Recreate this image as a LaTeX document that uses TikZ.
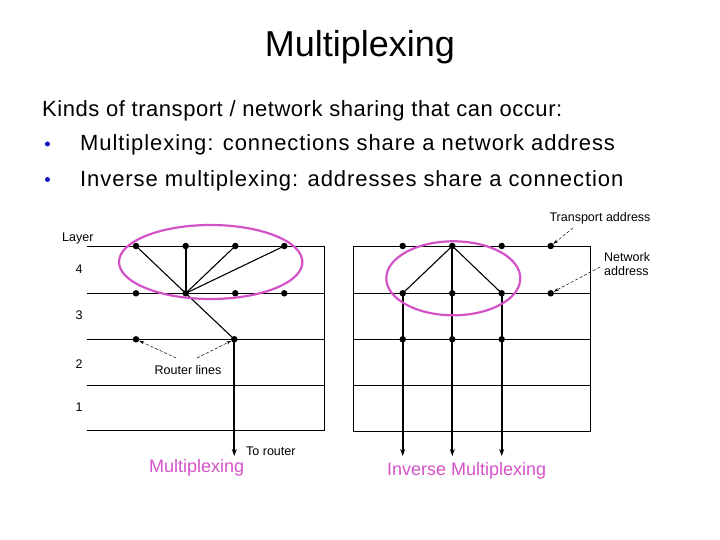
\documentclass[tikz,border=0pt]{standalone}
\usepackage{fontspec}
\setmainfont{Liberation Sans}
\usetikzlibrary{arrows.meta}
\definecolor{magentaring}{RGB}{212,82,200}
\definecolor{bulletblue}{RGB}{20,20,190}
\tikzset{
  grid/.style={line width=0.9pt},
  wire/.style={line width=1.1pt},
  thickwire/.style={line width=2.2pt},
  dot/.style={circle,fill=black,inner sep=0pt,minimum size=6.5pt},
  ring/.style={draw=magentaring,line width=2.2pt},
  small/.style={font=\fontsize{12.5}{14}\selectfont},
  lbl/.style={font=\fontsize{18}{20}\selectfont,text=magentaring},
  body/.style={font=\fontsize{22}{26}\selectfont,anchor=base west,inner sep=0pt},
  pointer/.style={-{Stealth[length=5pt,width=3pt]},line width=0.5pt,densely dashed},
  down/.style={-{Stealth[length=7pt,width=5pt]}}
}
\begin{document}
\begin{tikzpicture}[x=1pt,y=-1pt]
\useasboundingbox (0,0) rectangle (720,540);
% title and text
\node[font=\fontsize{36}{42}\selectfont,anchor=base,inner sep=0pt] (title) at (360,57) {Multiplexing};
\node[body] (l1) at (42,116.7) {\addfontfeatures{LetterSpace=2.5}Kinds of transport / network sharing that can occur:};
\node[body] (l2) at (80,151) {\addfontfeatures{LetterSpace=4.2}Multiplexing: connections share a network address};
\node[body] (l3) at (80,186.7) {\addfontfeatures{LetterSpace=4.2}Inverse multiplexing: addresses share a connection};
\node[circle,fill=bulletblue,inner sep=0pt,minimum size=5pt] (b1) at (47.5,144) {};
\node[circle,fill=bulletblue,inner sep=0pt,minimum size=5pt] (b2) at (47.5,179.5) {};

% ---------- left diagram ----------
\foreach \y in {246,293.3,339.3,385,430.7} \draw[grid] (86.7,\y) -- (324,\y);
\draw[grid] (324,246) -- (324,430.7);
\node[small,anchor=base west,inner sep=0pt] (layer) at (62,241) {Layer};
\node[small] (n4) at (79,269) {4};
\node[small] (n3) at (79,315) {3};
\node[small] (n2) at (79,364) {2};
\node[small] (n1) at (79,407) {1};
\node[dot] (a1) at (136,246) {};
\node[dot] (a2) at (185.7,246) {};
\node[dot] (a3) at (235.3,246) {};
\node[dot] (a4) at (284.3,246) {};
\node[dot] (b1n) at (136,293.3) {};
\node[dot] (b2n) at (185.7,293.3) {};
\node[dot] (b3n) at (235.3,293.3) {};
\node[dot] (b4n) at (284.3,293.3) {};
\node[dot] (c1) at (136,339.3) {};
\node[dot] (c2) at (234.3,339.3) {};
\coordinate (tr) at (234.3,456);
\draw[wire] (b2n.center) -- (a1.center);
\draw[thickwire] (b2n.center) -- (a2.center);
\draw[wire] (b2n.center) -- (a3.center);
\draw[wire] (b2n.center) -- (a4.center);
\draw[wire] (b2n.center) -- (c2.center);
\draw[thickwire,down] (c2.center) -- (tr);
\node[small] (rl) at (188,370) {Router lines};
\draw[pointer] (176,358) -- (c1);
\draw[pointer] (197,358) -- (c2);
\node[small,anchor=west,inner sep=0pt] (torouter) at (246,451) {To router};
\draw[ring] (210.7,262) ellipse [x radius=91.7,y radius=37];
\node[lbl] (mux) at (196.7,468) {Multiplexing};

% ---------- right diagram ----------
\foreach \y in {246,293.3,339.3,385,431} \draw[grid] (353.3,\y) -- (590.7,\y);
\draw[grid] (353.3,246) -- (353.3,431);
\draw[grid] (590.7,246) -- (590.7,431);
\node[dot] (p1) at (402.7,246) {};
\node[dot] (p2) at (452.3,246) {};
\node[dot] (p3) at (501.7,246) {};
\node[dot] (p4) at (550.7,246) {};
\node[dot] (q1) at (402.7,293.3) {};
\node[dot] (q2) at (452.3,293.3) {};
\node[dot] (q3) at (501.7,293.3) {};
\node[dot] (q4) at (550.7,293.3) {};
\node[dot] (r1) at (402.7,339.3) {};
\node[dot] (r2) at (452.3,339.3) {};
\node[dot] (r3) at (501.7,339.3) {};
\coordinate (e1) at (402.7,456);
\coordinate (e2) at (452.3,456);
\coordinate (e3) at (501.7,456);
\draw[wire] (p2.center) -- (q1.center);
\draw[wire] (p2.center) -- (q3.center);
\draw[thickwire,down] (p2.center) -- (e2);
\draw[thickwire,down] (q1.center) -- (e1);
\draw[thickwire,down] (q3.center) -- (e3);
\draw[ring] (453.3,278.3) ellipse [x radius=67,y radius=37];
\node[small] (ta) at (600,218) {Transport address};
\node[small,align=left,inner sep=0pt,anchor=west] (na) at (604,264) {Network\\address};
\draw[pointer] (573,228) -- (p4);
\draw[pointer] (600,267) -- (q4);
\node[lbl] (imux) at (466.7,470.5) {Inverse Multiplexing};
\end{tikzpicture}
\end{document}
